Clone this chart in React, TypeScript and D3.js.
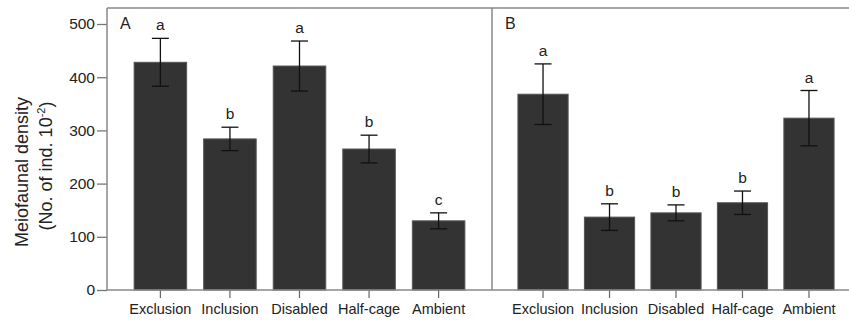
import React, { useEffect, useRef } from "react";
import * as d3 from "d3";

const categories = ["Exclusion", "Inclusion", "Disabled", "Half-cage", "Ambient"];

const meanA = [428, 284, 421, 265, 130];
const seA = [45, 22, 47, 26, 15];
const lettersA = ["a", "b", "a", "b", "c"];

const meanB = [368, 137, 145, 164, 323];
const seB = [57, 25, 15, 22, 52];
const lettersB = ["a", "b", "b", "b", "a"];

const yTicks = [0, 100, 200, 300, 400, 500];

const W = 849, H = 320;
const FONT = "'Liberation Sans', Arial, sans-serif";

export default function App() {
  const ref = useRef<SVGSVGElement>(null);

  useEffect(() => {
    const svg = d3.select(ref.current);
    svg.selectAll("*").remove();

    const top = 8, bottom = 290, left = 107, mid = 492, right = 860;

    const y = d3.scaleLinear().domain([0, 500]).range([bottom, 24]);

    const g = svg.append("g");

    // y axis
    const yAxis = g.append("g")
      .attr("transform", `translate(${left},0)`)
      .call(d3.axisLeft(y).tickValues(yTicks).tickSize(10).tickPadding(2));
    yAxis.select(".domain").remove();
    yAxis.selectAll(".tick line").attr("stroke", "#777").attr("stroke-width", 1.3);
    yAxis.selectAll(".tick text")
      .attr("font-family", FONT).attr("font-size", 15.5).attr("fill", "#222");

    // y title
    g.append("text")
      .attr("transform", `translate(28,172) rotate(-90)`)
      .attr("text-anchor", "middle")
      .attr("font-family", FONT).attr("font-size", 18).attr("fill", "#222")
      .text("Meiofaunal density");
    const t2 = g.append("text")
      .attr("transform", `translate(52,166) rotate(-90)`)
      .attr("text-anchor", "middle")
      .attr("font-family", FONT).attr("font-size", 18).attr("fill", "#222");
    t2.append("tspan").text("(No. of ind. 10");
    t2.append("tspan").attr("font-size", 11).attr("dy", -7).text("-2");
    t2.append("tspan").attr("dy", 7).text(")");

    const panels = [
      { x0: left, x1: mid, mean: meanA, se: seA, letters: lettersA, label: "A" },
      { x0: mid, x1: right, mean: meanB, se: seB, letters: lettersB, label: "B" },
    ];

    panels.forEach(p => {
      const x = d3.scaleBand<string>()
        .domain(categories)
        .range([p.x0, p.x1])
        .paddingInner(0.245)
        .paddingOuter(0.39);

      const pg = g.append("g");

      // x axis
      const xAxis = pg.append("g")
        .attr("transform", `translate(0,${bottom})`)
        .call(d3.axisBottom(x).tickSize(8).tickPadding(6));
      xAxis.select(".domain").remove();
      xAxis.selectAll(".tick line").attr("stroke", "#666").attr("stroke-width", 1.2);
      xAxis.selectAll(".tick text")
        .attr("font-family", FONT).attr("font-size", 14.5).attr("fill", "#222");

      // bars
      pg.selectAll("rect.bar")
        .data(categories)
        .join("rect")
        .attr("class", "bar")
        .attr("x", d => x(d)!)
        .attr("width", x.bandwidth())
        .attr("y", (d, i) => y(p.mean[i]))
        .attr("height", (d, i) => bottom - y(p.mean[i]))
        .attr("fill", "#333")
        .attr("stroke", "#555")
        .attr("stroke-width", 1);

      // error bars + letters
      const cap = 8.5;
      categories.forEach((c, i) => {
        const cx = x(c)! + x.bandwidth() / 2;
        const hi = y(p.mean[i] + p.se[i]);
        const lo = y(p.mean[i] - p.se[i]);
        const e = pg.append("g").attr("stroke", "#111").attr("stroke-width", 1.3);
        e.append("line").attr("x1", cx).attr("x2", cx).attr("y1", hi).attr("y2", lo);
        e.append("line").attr("x1", cx - cap).attr("x2", cx + cap).attr("y1", hi).attr("y2", hi);
        e.append("line").attr("x1", cx - cap).attr("x2", cx + cap).attr("y1", lo).attr("y2", lo);

        pg.append("text")
          .attr("x", cx).attr("y", hi - 8)
          .attr("text-anchor", "middle")
          .attr("font-family", FONT).attr("font-size", 15.5).attr("fill", "#222")
          .text(p.letters[i]);
      });

      pg.append("text")
        .attr("x", p.x0 + 13).attr("y", 29)
        .attr("font-family", FONT).attr("font-size", 16).attr("fill", "#222")
        .text(p.label);
    });

    // frame
    const frame = g.append("g").attr("stroke", "#888").attr("stroke-width", 1.5).attr("fill", "none");
    frame.append("line").attr("x1", left).attr("x2", W).attr("y1", top).attr("y2", top);
    frame.append("line").attr("x1", left).attr("x2", W).attr("y1", bottom).attr("y2", bottom);
    frame.append("line").attr("x1", left).attr("x2", left).attr("y1", top).attr("y2", bottom);
    frame.append("line").attr("x1", mid).attr("x2", mid).attr("y1", top).attr("y2", bottom);
  }, []);

  return (
    <svg
      ref={ref}
      width={W}
      height={H}
      style={{ position: "absolute", left: 0, top: 0, background: "#fff" }}
    />
  );
}
